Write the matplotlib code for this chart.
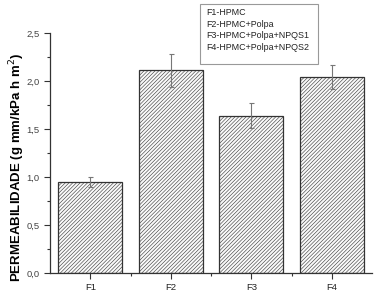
import matplotlib
matplotlib.use("Agg")
import matplotlib.pyplot as plt
from matplotlib.ticker import MultipleLocator, FixedLocator
from matplotlib.patches import Rectangle

categories = ["F1", "F2", "F3", "F4"]
values = [0.95, 2.11, 1.64, 2.04]
errors = [0.055, 0.17, 0.13, 0.125]
legend_lines = ["F1-HPMC", "F2-HPMC+Polpa", "F3-HPMC+Polpa+NPQS1", "F4-HPMC+Polpa+NPQS2"]
yticks = [0.0, 0.5, 1.0, 1.5, 2.0, 2.5]
ytick_labels = ["0,0", "0,5", "1,0", "1,5", "2,0", "2,5"]

plt.rcParams['font.family'] = ['Liberation Sans', 'DejaVu Sans']
plt.rcParams['hatch.color'] = '#c4c4c4'
plt.rcParams['hatch.linewidth'] = 0.4

fig = plt.figure(figsize=(3.77, 2.93), dpi=100)
ax = fig.add_axes([50/377, 1-273/293, 322/377, 240/293])

x = list(range(len(categories)))
ax.bar(x, values, width=0.8, color='#f9f9f9', edgecolor='#333333', linewidth=0.9,
       hatch='/////////')
ax.errorbar(x, values, yerr=errors, fmt='none', ecolor='#777777', elinewidth=0.8,
            capsize=1.8, capthick=0.8)

ax.set_xlim(-0.5, 3.5)
ax.set_ylim(0, 2.5)
ax.set_xticks(x)
ax.set_xticklabels(categories, fontsize=6.8, color='#222222')
ax.xaxis.set_minor_locator(FixedLocator([0.5, 1.5, 2.5]))
ax.set_yticks(yticks)
ax.set_yticklabels(ytick_labels, fontsize=6.8, color='#444444')
ax.yaxis.set_minor_locator(MultipleLocator(0.25))
ax.tick_params(axis='both', which='major', direction='out', length=4, width=0.8, color='#333333')
ax.tick_params(axis='both', which='minor', direction='out', length=2.5, width=0.8, color='#333333')
ax.spines['top'].set_visible(False)
ax.spines['right'].set_visible(False)
for s in ['left', 'bottom']:
    ax.spines[s].set_linewidth(0.9)
    ax.spines[s].set_color('#333333')

ax.set_ylabel("PERMEABILIDADE (g mm/kPa h m$^2$)", fontsize=9.5, fontweight='bold')
ax.yaxis.set_label_coords(-0.07, 0.44)

fig.text(206/377, 1-8/293, "\n".join(legend_lines), fontsize=6.4, va='top', ha='left',
         linespacing=1.38, color='#222222')
fig.patches.append(Rectangle((200/377, 1-64/293), 118/377, 60/293, transform=fig.transFigure,
                             fill=False, ec='#999999', lw=0.8))

fig.savefig("out.png", dpi=100)
